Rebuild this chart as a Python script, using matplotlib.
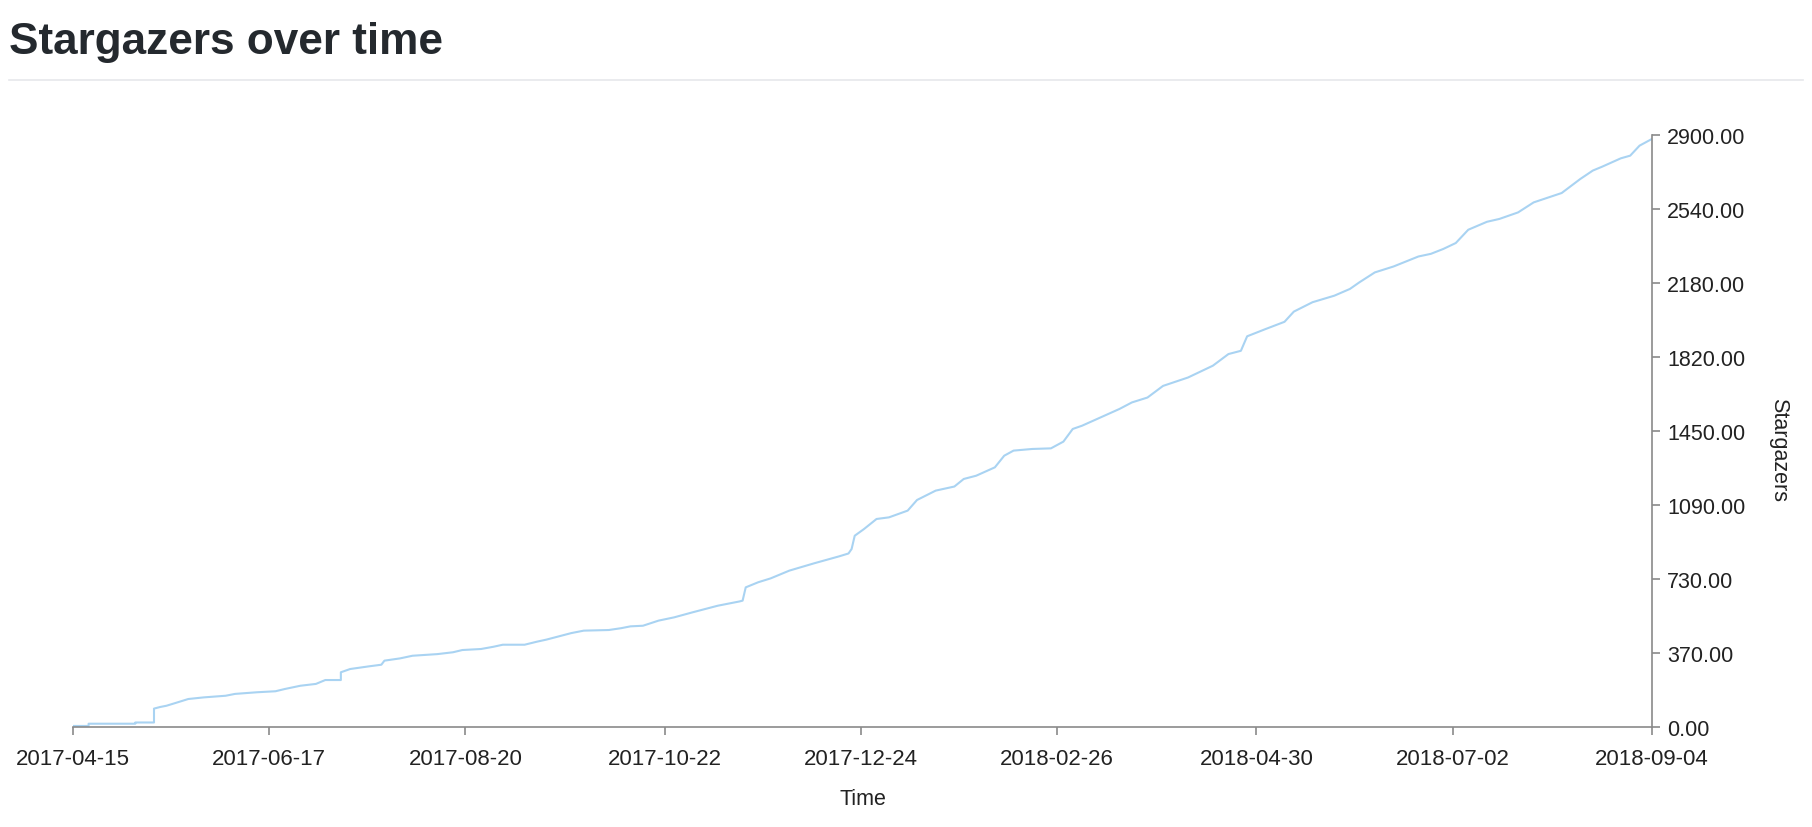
import datetime as dt
import matplotlib
matplotlib.use("Agg")
import matplotlib.pyplot as plt
from matplotlib.lines import Line2D

# cumulative stargazers (days since start date)
start_date = dt.date(2017, 4, 15)
days = [0, 5, 5, 20, 20, 26, 26, 28, 30, 33, 37, 42, 49, 52, 59, 65, 68, 73, 78, 81,
        86, 86, 89, 95, 99, 100, 105, 109, 117, 122, 125, 131, 135, 138, 145, 149, 152,
        156, 160, 164, 172, 176, 179, 183, 188, 193, 199, 207, 214, 215, 216, 220, 224,
        230, 238, 246, 249, 250, 251, 254, 258, 262, 268, 271, 277, 283, 286, 290, 296,
        299, 302, 308, 314, 318, 321, 324, 330, 336, 340, 345, 350, 358, 366, 371, 375,
        377, 383, 389, 392, 398, 405, 410, 413, 418, 424, 432, 436, 440, 444, 448, 454,
        458, 464, 469, 478, 484, 488, 491, 497, 500, 503, 507]
stars = [5, 5, 16, 16, 22, 22, 90, 98, 104, 118, 137, 145, 153, 162, 170, 175, 186, 202, 211, 230,
         230, 268, 284, 297, 305, 325, 336, 349, 357, 366, 377, 382, 393, 403, 403, 418, 428,
         444, 460, 472, 475, 484, 493, 496, 521, 537, 562, 594, 615, 619, 684, 709, 728,
         766, 802, 836, 850, 872, 937, 970, 1019, 1027, 1060, 1112, 1158, 1178, 1215, 1231, 1272,
         1329, 1354, 1362, 1365, 1398, 1460, 1476, 1517, 1558, 1590, 1614, 1671, 1712, 1770, 1827, 1843,
         1914, 1950, 1985, 2035, 2081, 2113, 2146, 2178, 2227, 2256, 2305, 2318, 2342, 2371, 2436, 2475,
         2489, 2521, 2570, 2616, 2685, 2726, 2745, 2786, 2799, 2848, 2881]

end_date = dt.date(2018, 9, 4)
x_tick_labels = ['2017-04-15', '2017-06-17', '2017-08-20', '2017-10-22', '2017-12-24',
                 '2018-02-26', '2018-04-30', '2018-07-02', '2018-09-04']
y_max = 2900
y_tick_labels = ['0.00', '370.00', '730.00', '1090.00', '1450.00', '1820.00',
                 '2180.00', '2540.00', '2900.00']

dates = [start_date + dt.timedelta(days=d) for d in days]

plt.rcParams['font.family'] = ['Liberation Sans', 'DejaVu Sans']

fig = plt.figure(figsize=(18.12, 8.28), dpi=100)
ax = fig.add_axes([0.0403, 0.1208, 0.8714, 0.7149])

ax.plot(dates, stars, color='#a9d3f2', linewidth=1.5)

# d3 style axes: bottom + right only
axis_col = '#8a8a8a'
text_col = '#222222'
ax.set_xlim(start_date, end_date)
ax.set_ylim(0, y_max)
for s in ['top', 'left']:
    ax.spines[s].set_visible(False)
for s in ['bottom', 'right']:
    ax.spines[s].set_color(axis_col)
    ax.spines[s].set_linewidth(1.2)

n = len(x_tick_labels)
span = (end_date - start_date).days
x_ticks = [start_date + dt.timedelta(days=span * i / (n - 1)) for i in range(n)]
ax.set_xticks(x_ticks)
ax.set_xticklabels(x_tick_labels)
y_ticks = [y_max * i / (len(y_tick_labels) - 1) for i in range(len(y_tick_labels))]
ax.set_yticks(y_ticks)
ax.set_yticklabels(y_tick_labels)

ax.yaxis.tick_right()
ax.tick_params(axis='both', color=axis_col, width=1.2, length=6, labelsize=15.5,
               labelcolor=text_col)
ax.tick_params(axis='x', labelsize=16, pad=9)
ax.tick_params(axis='y', pad=5)

ax.set_xlabel('Time', fontsize=15.5, color=text_col, va='center')
ax.xaxis.set_label_coords(0.5, -0.121)
ax.set_ylabel('Stargazers', fontsize=15.5, color=text_col, rotation=270,
              va='center', ha='center')
ax.yaxis.set_label_coords(1.08, 0.47)

# page header
fig.text(0.005, 0.9348, 'Stargazers over time', fontsize=31.8, fontweight='bold',
         color='#24292e', va='baseline', ha='left')
fig.add_artist(Line2D([0.005, 0.995], [0.9022, 0.9022], transform=fig.transFigure,
                      color='#e6e8eb', linewidth=1.2))

fig.savefig('out.png', dpi=100)
